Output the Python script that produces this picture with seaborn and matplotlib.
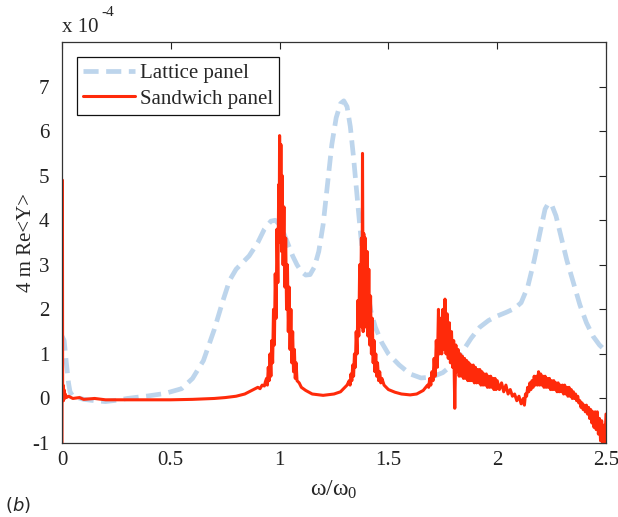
import matplotlib
matplotlib.use("Agg")
import matplotlib.pyplot as plt
import seaborn as sns
import pandas as pd

# Real part of the mobility (units of 1e-4) versus normalised frequency
lattice_freq = [0.0, 0.01, 0.02, 0.03, 0.037, 0.05, 0.1, 0.15, 0.2, 0.25, 0.3, 0.35,
                0.4, 0.47, 0.5, 0.55, 0.6, 0.65, 0.7, 0.74, 0.77, 0.8, 0.83, 0.86,
                0.9, 0.93, 0.96, 0.98, 1.0, 1.02, 1.04, 1.06, 1.08, 1.1, 1.12, 1.14,
                1.16, 1.18, 1.2, 1.22, 1.24, 1.26, 1.28, 1.295, 1.31, 1.325, 1.34,
                1.355, 1.37, 1.385, 1.4, 1.42, 1.44, 1.47, 1.5, 1.55, 1.6, 1.65,
                1.7, 1.75, 1.8, 1.84, 1.88, 1.92, 1.96, 2.0, 2.04, 2.08, 2.11, 2.14,
                2.17, 2.2, 2.22, 2.235, 2.25, 2.27, 2.29, 2.32, 2.35, 2.38, 2.41,
                2.44, 2.47, 2.5]
lattice_re_y = [1.4, 1.3, 0.8, 0.35, 0.15, 0.05, -0.02, -0.05, -0.07, -0.04, 0.0, 0.03,
                0.06, 0.11, 0.15, 0.22, 0.45, 0.85, 1.55, 2.2, 2.65, 2.9, 3.05, 3.2,
                3.5, 3.8, 3.98, 4.0, 3.9, 3.7, 3.45, 3.2, 3.0, 2.85, 2.77, 2.78,
                2.95, 3.3, 3.9, 4.8, 5.7, 6.3, 6.62, 6.68, 6.55, 6.1, 5.4,
                4.6, 3.8, 3.1, 2.5, 1.95, 1.6, 1.25, 1.0, 0.75, 0.55, 0.46,
                0.48, 0.58, 0.78, 1.05, 1.35, 1.6, 1.75, 1.85, 1.93, 2.02, 2.15, 2.5,
                3.1, 3.8, 4.25, 4.38, 4.35, 4.1, 3.7, 3.1, 2.6, 2.1, 1.7,
                1.4, 1.2, 1.06]

sandwich_freq = [
    # near zero
    0.0, 0.002, 0.003, 0.005, 0.007, 0.009, 0.012, 0.015, 0.02, 0.03,
    0.05, 0.08, 0.1, 0.15, 0.2, 0.3, 0.4, 0.5, 0.6, 0.7, 0.75, 0.8,
    0.84, 0.86, 0.88, 0.9, 0.91, 0.92, 0.93, 0.935,
    # first resonance
    0.940, 0.944, 0.948, 0.952, 0.956, 0.960, 0.964, 0.968, 0.972, 0.976,
    0.980, 0.984, 0.988, 0.992, 0.996, 0.998, 1.000, 1.003, 1.006, 1.009,
    1.012, 1.016, 1.020, 1.024, 1.028, 1.032, 1.036, 1.040, 1.044, 1.048,
    1.052, 1.056, 1.060, 1.064, 1.068, 1.072, 1.076, 1.080, 1.09, 1.1,
    1.12, 1.15, 1.2, 1.25, 1.28, 1.3, 1.31,
    # second resonance
    1.320, 1.324, 1.328, 1.332, 1.336, 1.340, 1.344, 1.348, 1.352, 1.356,
    1.360, 1.364, 1.368, 1.372, 1.376, 1.379, 1.381, 1.384, 1.387, 1.390,
    1.394, 1.398, 1.402, 1.406, 1.410, 1.414, 1.418, 1.422, 1.426, 1.430,
    1.434, 1.438, 1.442, 1.446, 1.450, 1.455, 1.460, 1.465, 1.470, 1.48,
    1.5, 1.53, 1.56, 1.6, 1.63, 1.66,
    # third resonance and tail
    1.680, 1.685, 1.690, 1.695, 1.700, 1.705, 1.710, 1.715, 1.720, 1.725,
    1.730, 1.735, 1.740, 1.745, 1.750, 1.755, 1.760, 1.765, 1.770, 1.775,
    1.780, 1.785, 1.790, 1.795, 1.800, 1.805, 1.810, 1.815, 1.820, 1.825,
    1.830, 1.835, 1.840, 1.845, 1.850, 1.855, 1.860, 1.865, 1.870, 1.875,
    1.880, 1.885, 1.890, 1.895, 1.900, 1.905, 1.910, 1.915, 1.920, 1.925,
    1.930, 1.935, 1.940, 1.945, 1.950, 1.955, 1.960, 1.965, 1.970, 1.975,
    1.980, 1.985, 1.990, 1.995, 2.000, 2.010, 2.020, 2.030, 2.040, 2.050,
    2.060, 2.070, 2.080, 2.090, 2.100, 2.110, 2.120, 2.125, 2.130,
    # high-frequency hump and roll-off
    2.135, 2.140, 2.145, 2.150, 2.155, 2.160, 2.165, 2.170, 2.175, 2.180,
    2.185, 2.190, 2.195, 2.200, 2.205, 2.210, 2.215, 2.220, 2.225, 2.230,
    2.235, 2.240, 2.245, 2.250, 2.255, 2.260, 2.265, 2.270, 2.275, 2.280,
    2.285, 2.290, 2.295, 2.300, 2.305, 2.310, 2.315, 2.320, 2.325, 2.330,
    2.335, 2.340, 2.345, 2.350, 2.355, 2.360, 2.365, 2.370, 2.375, 2.380,
    2.385, 2.390, 2.395, 2.400, 2.405, 2.410, 2.415, 2.420, 2.425, 2.430,
    2.435, 2.440, 2.445, 2.450, 2.455, 2.460, 2.465, 2.470, 2.475, 2.480,
    2.485, 2.490, 2.495, 2.500]
sandwich_re_y = [
    -1.0, 4.9, 0.0, 0.3, -0.05, 0.2, 0.0, 0.1, 0.02, 0.05,
    0.0, 0.02, -0.02, 0.0, -0.03, -0.03, -0.03, -0.03, -0.02, 0.0, 0.02, 0.05,
    0.1, 0.15, 0.2, 0.25, 0.22, 0.3, 0.28, 0.38,
    0.45, 0.3, 0.7, 0.4, 1.0, 0.5, 1.3, 0.8, 2.0, 1.2,
    2.8, 1.8, 3.8, 2.6, 4.8, 3.5, 5.9, 3.6, 5.7, 3.3,
    5.0, 3.0, 4.3, 2.5, 3.6, 2.0, 3.0, 1.5, 2.5, 1.1,
    2.0, 0.8, 1.5, 0.6, 1.1, 0.45, 0.8, 0.4, 0.35, 0.25,
    0.18, 0.1, 0.07, 0.1, 0.15, 0.25, 0.3,
    0.4, 0.3, 0.55, 0.4, 0.75, 0.5, 1.0, 0.7, 1.5, 1.0,
    2.2, 1.4, 3.0, 1.8, 3.6, 1.6, 5.5, 1.5, 3.7, 1.8,
    3.6, 1.6, 3.3, 1.4, 2.9, 1.2, 2.3, 1.0, 1.8, 0.8,
    1.3, 0.6, 1.0, 0.5, 0.8, 0.4, 0.6, 0.35, 0.45, 0.3,
    0.2, 0.14, 0.1, 0.08, 0.1, 0.18,
    0.3, 0.25, 0.45, 0.3, 0.6, 0.4, 0.9, 0.5, 1.3, 0.7,
    2.0, 1.0, 1.8, 1.0, 2.0, 1.1, 2.23, 1.0, 1.9, 0.9,
    1.7, 0.8, 1.5, 0.7, 1.3, -0.22, 1.2, 0.6, 1.1, 0.5,
    1.0, 0.5, 0.95, 0.45, 0.9, 0.45, 0.85, 0.4, 0.8, 0.4,
    0.75, 0.4, 0.75, 0.35, 0.7, 0.35, 0.65, 0.35, 0.65, 0.3,
    0.6, 0.3, 0.55, 0.3, 0.55, 0.25, 0.5, 0.25, 0.5, 0.25,
    0.45, 0.2, 0.45, 0.2, 0.4, 0.2, 0.35, 0.15, 0.3, 0.1,
    0.2, 0.05, 0.1, -0.05, 0.05, -0.12, 0.0, -0.15, 0.1,
    0.05, 0.25, 0.15, 0.35, 0.2, 0.4, 0.25, 0.5, 0.3, 0.5,
    0.3, 0.6, 0.3, 0.55, 0.3, 0.5, 0.25, 0.5, 0.25, 0.45,
    0.25, 0.45, 0.2, 0.4, 0.2, 0.4, 0.2, 0.35, 0.15, 0.35,
    0.15, 0.3, 0.15, 0.3, 0.1, 0.3, 0.1, 0.25, 0.05, 0.25,
    0.05, 0.2, 0.0, 0.15, 0.0, 0.1, -0.05, 0.05, -0.1, -0.05,
    -0.2, -0.1, -0.25, -0.15, -0.3, -0.15, -0.35, -0.2, -0.45, -0.25,
    -0.55, -0.3, -0.65, -0.3, -0.7, -0.3, -0.8, -0.45, -0.95, -0.5,
    -1.0, -0.6, -1.0, -0.35]

x_ticks = [0, 0.5, 1, 1.5, 2, 2.5]
x_tick_labels = ["0", "0.5", "1", "1.5", "2", "2.5"]
y_ticks = [-1, 0, 1, 2, 3, 4, 5, 6, 7]
y_tick_labels = ["-1", "0", "1", "2", "3", "4", "5", "6", "7"]

lattice = pd.DataFrame({"freq": lattice_freq, "re_y": lattice_re_y})
sandwich = pd.DataFrame({"freq": sandwich_freq, "re_y": sandwich_re_y})

sns.set_style("white")
plt.rcParams["font.family"] = ["Liberation Serif", "DejaVu Serif"]
plt.rcParams["mathtext.default"] = "regular"
plt.rcParams["axes.unicode_minus"] = False

fig = plt.figure(figsize=(6.18, 5.17), dpi=100)
ax = fig.add_axes([0.1003, 0.1431, 0.8803, 0.7756])

sns.lineplot(data=lattice, x="freq", y="re_y", ax=ax, color="#bdd5ec",
             linewidth=3.4, linestyle=(0, (3.2, 1.6)), estimator=None, sort=False,
             label="Lattice panel")
sns.lineplot(data=sandwich, x="freq", y="re_y", ax=ax, color="#ff2a0a",
             linewidth=2.2, estimator=None, sort=False, label="Sandwich panel")

ax.set_xlim(0, 2.5)
ax.set_ylim(-1, 8)
ax.set_xticks(x_ticks)
ax.set_xticklabels(x_tick_labels)
ax.set_yticks(y_ticks)
ax.set_yticklabels(y_tick_labels)
ax.tick_params(direction="in", length=5, width=0.8, top=True, right=True,
               labelsize=15, colors="#222222")
ax.tick_params(axis="x", pad=6)
ax.tick_params(axis="y", pad=9)
for s in ax.spines.values():
    s.set_color("#333333")
    s.set_linewidth(0.9)
    s.set_visible(True)

ax.set_xlabel("ω/ω$_0$", fontsize=17, labelpad=6)
ax.set_ylabel("4 m Re<Y>", fontsize=15, labelpad=-3)

# MATLAB-style exponent above the y axis
ax.text(0.0, 1.012, "x 10", transform=ax.transAxes, fontsize=15,
        ha="left", va="bottom")
ax.text(0.073, 1.058, "-4", transform=ax.transAxes, fontsize=11,
        ha="left", va="bottom")
fig.text(0.008, 0.004, "($\\it{b}$)", fontsize=13, family=["DejaVu Sans"],
         ha="left", va="bottom")

leg = ax.legend(loc="upper left", bbox_to_anchor=(0.0276, 0.9626),
                borderaxespad=0, fontsize=15, handlelength=2.5,
                handletextpad=0.2, labelspacing=0.3, borderpad=0.3,
                fancybox=False, framealpha=1)
leg.get_frame().set_edgecolor("#111111")
leg.get_frame().set_linewidth(0.9)

fig.savefig("out.png", dpi=100)
